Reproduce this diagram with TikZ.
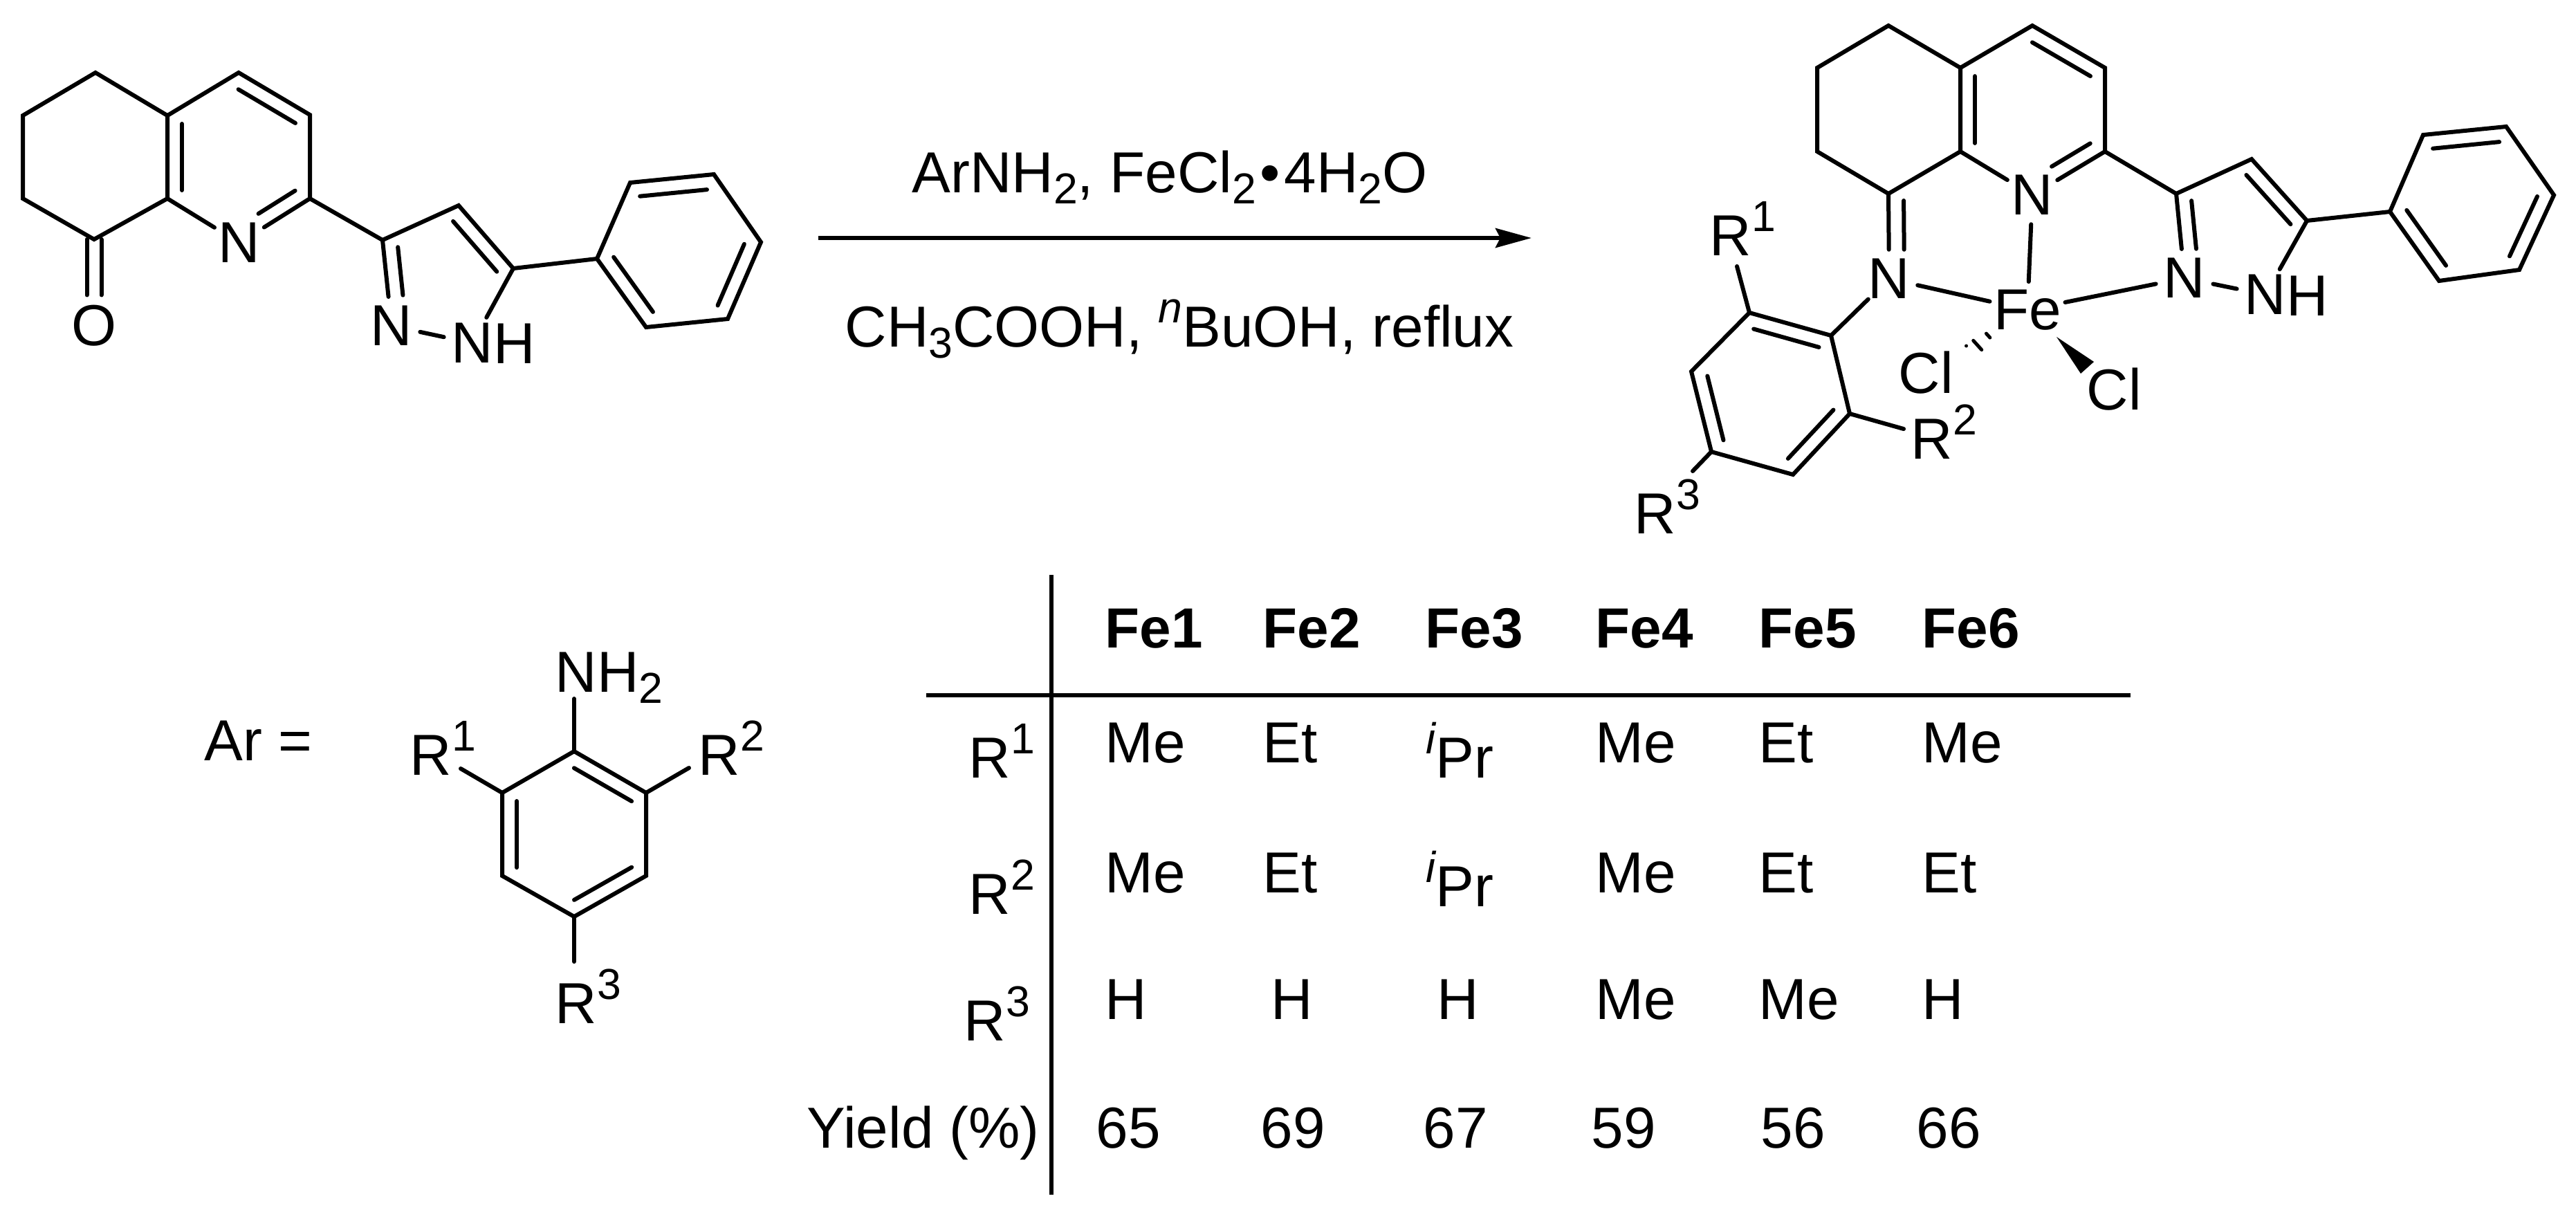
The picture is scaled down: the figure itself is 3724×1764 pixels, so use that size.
\documentclass[tikz,border=0pt]{standalone}
\usepackage{fontspec}
\setmainfont{Liberation Sans}
\usepackage{tikz}
\usetikzlibrary{arrows.meta, calc}

\newcommand{\atomsup}[1]{\raisebox{.41em}{\fontsize{17.8}{20}\selectfont #1}}
\newcommand{\atomsub}[1]{\raisebox{-.2em}{\fontsize{17.8}{20}\selectfont #1}}
% Inner line of a double bond, #1 = where it stops along the bond
\newcommand{\innerbond}[4][.9]{\draw[bond] ($(#2)!.1!(#3)!#4!90:(#3)$) -- ($(#2)!#1!(#3)!#4!90:(#3)$);}

\tikzset{
    bond/.style={line width=0.6mm, line cap=round},
    rule/.style={line width=0.6mm},
    atom/.style={circle, inner sep=0mm},
    ironatom/.style={rectangle, inner xsep=0.5mm, inner ysep=1.1mm},
    txt/.style={anchor=base west, inner sep=0pt}
}

\begin{document}
\begin{tikzpicture}[x=0.1mm, y=-0.1mm, every node/.style={font=\fontsize{23.8}{28}\selectfont}]
        \useasboundingbox (0,0) rectangle (3724,1764);

        % Left Molecule
        \coordinate (LeftA) at (138,105);
        \coordinate (LeftB) at (33,167);
        \coordinate (LeftC) at (33,287);
        \coordinate (LeftD) at (136,346);
        \coordinate (LeftE) at (242,287);
        \coordinate (LeftF) at (242,167);
        \coordinate (LeftG) at (345,105);
        \coordinate (LeftH) at (448,166);
        \coordinate (LeftI) at (448,287);
        \coordinate (LeftPzC) at (553,347);
        \coordinate (LeftPzD) at (663,297);
        \coordinate (LeftPzE) at (742,388);
        \coordinate (LeftPhA) at (863,374);
        \coordinate (LeftPhB) at (911,264);
        \coordinate (LeftPhC) at (1032,252);
        \coordinate (LeftPhD) at (1100,350);
        \coordinate (LeftPhE) at (1052,461);
        \coordinate (LeftPhF) at (934,473);
        \node[atom] (LeftO) at (136,471) {O};
        \node[atom] (LeftPyN) at (346,351) {N};
        \node[atom] (LeftPzN) at (566,471) {N};
        \node[atom] (LeftPzNH) at (683,496) {N};
        \node[txt] (LeftPzH) at (713,525) {H};

        \draw[bond] (LeftE) -- (LeftF) -- (LeftA) -- (LeftB) -- (LeftC) -- (LeftD) -- cycle;
        \draw[bond] (LeftF) -- (LeftG) -- (LeftH) -- (LeftI);
        \draw[bond] (LeftE) -- (LeftPyN);
        \draw[bond] (LeftI) -- (LeftPyN);
        \draw[bond] (LeftI) -- (LeftPzC);
        \draw[bond] (LeftPzN) -- (LeftPzC) -- (LeftPzD) -- (LeftPzE) -- (LeftPzNH);
        \draw[bond] (LeftPzN) -- (LeftPzNH);
        \draw[bond] (LeftPzE) -- (LeftPhA);
        \draw[bond] (LeftPhA) -- (LeftPhB) -- (LeftPhC) -- (LeftPhD) -- (LeftPhE) -- (LeftPhF) -- cycle;
        \draw[bond, transform canvas={xshift=-1.05mm}] (LeftD) -- (LeftO);
        \draw[bond, transform canvas={xshift=1.05mm}] (LeftD) -- (LeftO);
        \innerbond{LeftF}{LeftE}{2.1mm}
        \innerbond{LeftG}{LeftH}{-2.1mm}
        \innerbond[.62]{LeftI}{LeftPyN}{-2.1mm}
        \innerbond[.66]{LeftPzC}{LeftPzN}{2.1mm}
        \innerbond{LeftPzD}{LeftPzE}{-2.1mm}
        \innerbond{LeftPhB}{LeftPhC}{-2.1mm}
        \innerbond{LeftPhA}{LeftPhF}{2.1mm}
        \innerbond{LeftPhD}{LeftPhE}{-2.1mm}

        % Reaction Arrow
        \coordinate (ArrowStart) at (1183,344);
        \coordinate (ArrowEnd) at (2214,344);
        \draw[-{Stealth[length=5.2mm, width=2.8mm, inset=0.7mm]}, rule] (ArrowStart) -- (ArrowEnd);
        \node[txt] (ReagentTop) at (1318,278) {ArNH\atomsub{2}, FeCl\atomsub{2}\kern.07em\textbullet\kern.07em 4H\atomsub{2}O};
        \node[txt] (ReagentBottom) at (1221,501) {CH\atomsub{3}COOH, \atomsup{\itshape n}BuOH, reflux};

        % Right Molecule
        \coordinate (RightA) at (2730,37);
        \coordinate (RightB) at (2627,98);
        \coordinate (RightC) at (2627,219);
        \coordinate (RightD) at (2730,280);
        \coordinate (RightE) at (2834,219);
        \coordinate (RightF) at (2834,98);
        \coordinate (RightG) at (2938,37);
        \coordinate (RightH) at (3043,98);
        \coordinate (RightI) at (3043,219);
        \coordinate (RightPzC) at (3146,280);
        \coordinate (RightPzD) at (3255,230);
        \coordinate (RightPzE) at (3335,319);
        \coordinate (RightPhA) at (3455,306);
        \coordinate (RightPhB) at (3503,195);
        \coordinate (RightPhC) at (3623,183);
        \coordinate (RightPhD) at (3692,282);
        \coordinate (RightPhE) at (3642,390);
        \coordinate (RightPhF) at (3526,406);
        \coordinate (ArylA) at (2647,485);
        \coordinate (ArylB) at (2529,452);
        \coordinate (ArylC) at (2445,537);
        \coordinate (ArylD) at (2474,653);
        \coordinate (ArylE) at (2592,686);
        \coordinate (ArylF) at (2674,598);
        \coordinate (ArylOneEnd) at (2511,385);
        \coordinate (ArylTwoEnd) at (2752,620);
        \coordinate (ArylThreeEnd) at (2447,681);
        \node[atom] (RightPyN) at (2938,282) {N};
        \node[atom] (RightImN) at (2731,403) {N};
        \node[atom] (RightPzN) at (3158,402) {N};
        \node[atom] (RightPzNH) at (3275,426) {N};
        \node[txt] (RightPzH) at (3305,456) {H};
        \node[ironatom] (Iron) at (2931,448) {Fe};
        \node[txt] (ClHash) at (2744,568) {Cl};
        \node[txt] (ClWedge) at (3016,592) {Cl};
        \node[txt] (ArylOne) at (2471,369) {R\atomsup{1}};
        \node[txt] (ArylTwo) at (2762,663) {R\atomsup{2}};
        \node[txt] (ArylThree) at (2362,771) {R\atomsup{3}};

        \draw[bond] (RightE) -- (RightF) -- (RightA) -- (RightB) -- (RightC) -- (RightD) -- cycle;
        \draw[bond] (RightF) -- (RightG) -- (RightH) -- (RightI);
        \draw[bond] (RightE) -- (RightPyN);
        \draw[bond] (RightI) -- (RightPyN);
        \draw[bond] (RightI) -- (RightPzC);
        \draw[bond] (RightPzN) -- (RightPzC) -- (RightPzD) -- (RightPzE) -- (RightPzNH);
        \draw[bond] (RightPzN) -- (RightPzNH);
        \draw[bond] (RightPzE) -- (RightPhA);
        \draw[bond] (RightPhA) -- (RightPhB) -- (RightPhC) -- (RightPhD) -- (RightPhE) -- (RightPhF) -- cycle;
        \draw[bond] (RightD) -- (RightImN);
        \draw[bond, transform canvas={xshift=2.2mm}, shorten <=1mm] (RightD) -- (RightImN);
        \innerbond{RightF}{RightE}{2.1mm}
        \innerbond{RightG}{RightH}{-2.1mm}
        \innerbond[.63]{RightI}{RightPyN}{-2.1mm}
        \innerbond[.67]{RightPzC}{RightPzN}{2.1mm}
        \innerbond{RightPzD}{RightPzE}{-2.1mm}
        \innerbond{RightPhB}{RightPhC}{-2.1mm}
        \innerbond{RightPhA}{RightPhF}{2.1mm}
        \innerbond{RightPhD}{RightPhE}{-2.1mm}

        % Iron Bonds
        \draw[bond] (RightPyN) -- (Iron);
        \draw[bond] (RightImN) -- (Iron);
        \draw[bond] (RightPzN) -- (Iron);
        \coordinate (WedgeTip) at (2973,487);
        \coordinate (WedgeUpper) at (3027,523);
        \coordinate (WedgeLower) at (3008,540);
        \fill[line join=round] (WedgeTip) -- (WedgeUpper) -- (WedgeLower) -- cycle;
        \coordinate (HashTip) at (2882,478);
        \coordinate (HashEnd) at (2842.5,513.5);
        \foreach \t/\w in {.2/0.4mm, .59/0.9mm, 1/1.35mm} {
            \draw[line width=0.5mm, line cap=round] ($(HashTip)!\t!(HashEnd)!\w!90:(HashEnd)$) -- ($(HashTip)!\t!(HashEnd)!\w!-90:(HashEnd)$);
        }

        % Aryl Ring
        \draw[bond] (ArylA) -- (ArylB) -- (ArylC) -- (ArylD) -- (ArylE) -- (ArylF) -- cycle;
        \draw[bond] (RightImN) -- (ArylA);
        \draw[bond] (ArylB) -- (ArylOneEnd);
        \draw[bond] (ArylF) -- (ArylTwoEnd);
        \draw[bond] (ArylD) -- (ArylThreeEnd);
        \innerbond{ArylA}{ArylB}{2.1mm}
        \innerbond{ArylC}{ArylD}{2.1mm}
        \innerbond{ArylE}{ArylF}{2.1mm}

        % Aniline
        \coordinate (AnilA) at (830,1086);
        \coordinate (AnilB) at (934,1146);
        \coordinate (AnilC) at (934,1266);
        \coordinate (AnilD) at (830,1325);
        \coordinate (AnilE) at (726,1266);
        \coordinate (AnilF) at (726,1146);
        \coordinate (AnilTopEnd) at (830,1010);
        \coordinate (AnilOneEnd) at (666,1111);
        \coordinate (AnilTwoEnd) at (996,1110);
        \coordinate (AnilThreeEnd) at (830,1390);
        \node[txt] (ArEquals) at (295,1099) {Ar =};
        \node[txt] (AnilAmine) at (802,1000) {NH\atomsub{2}};
        \node[txt] (AnilOne) at (592,1120) {R\atomsup{1}};
        \node[txt] (AnilTwo) at (1009,1120) {R\atomsup{2}};
        \node[txt] (AnilThree) at (802,1479) {R\atomsup{3}};

        \draw[bond] (AnilA) -- (AnilB) -- (AnilC) -- (AnilD) -- (AnilE) -- (AnilF) -- cycle;
        \draw[bond] (AnilA) -- (AnilTopEnd);
        \draw[bond] (AnilF) -- (AnilOneEnd);
        \draw[bond] (AnilB) -- (AnilTwoEnd);
        \draw[bond] (AnilD) -- (AnilThreeEnd);
        \innerbond{AnilA}{AnilB}{-2.1mm}
        \innerbond{AnilF}{AnilE}{2.1mm}
        \innerbond{AnilC}{AnilD}{-2.1mm}

        % Table Rules
        \coordinate (RuleTop) at (1520,831);
        \coordinate (RuleBottom) at (1520,1727);
        \coordinate (RuleLeft) at (1339,1005);
        \coordinate (RuleRight) at (3080,1005);
        \draw[rule] (RuleTop) -- (RuleBottom);
        \draw[rule] (RuleLeft) -- (RuleRight);

        % Table Header
        \foreach \n/\x in {1/1597,2/1825,3/2060,4/2306,5/2542,6/2778} {
            \node[txt, font=\fontsize{23.3}{28}\selectfont\bfseries] (Head\n) at (\x,936) {Fe\n};
        }

        % Table Rows
        \node[txt] (LabelOne) at (1400,1124) {R\atomsup{1}};
        \node[txt] (LabelTwo) at (1400,1321) {R\atomsup{2}};
        \node[txt] (LabelThree) at (1393,1504) {R\atomsup{3}};
        \node[txt] (LabelYield) at (1166,1659) {Yield (\%)};
        \foreach \n/\x/\t in {1/1597/Me,2/1825/Et,4/2306/Me,5/2542/Et,6/2778/Me} {
            \node[txt] (RowOne\n) at (\x,1102) {\t};
        }
        \foreach \n/\x/\t in {1/1597/Me,2/1825/Et,4/2306/Me,5/2542/Et,6/2778/Et} {
            \node[txt] (RowTwo\n) at (\x,1290) {\t};
        }
        \node[txt] (RowOne3) at (2061,1124) {\atomsup{\itshape i}Pr};
        \node[txt] (RowTwo3) at (2061,1310) {\atomsup{\itshape i}Pr};
        \foreach \n/\x/\t in {1/1597/H,2/1837/H,3/2077/H,4/2306/Me,5/2542/Me,6/2778/H} {
            \node[txt] (RowThree\n) at (\x,1473) {\t};
        }
        \foreach \n/\x/\t in {1/1584/65,2/1822/69,3/2057/67,4/2300/59,5/2545/56,6/2770/66} {
            \node[txt] (RowYield\n) at (\x,1659) {\t};
        }

    \end{tikzpicture}
\end{document}
